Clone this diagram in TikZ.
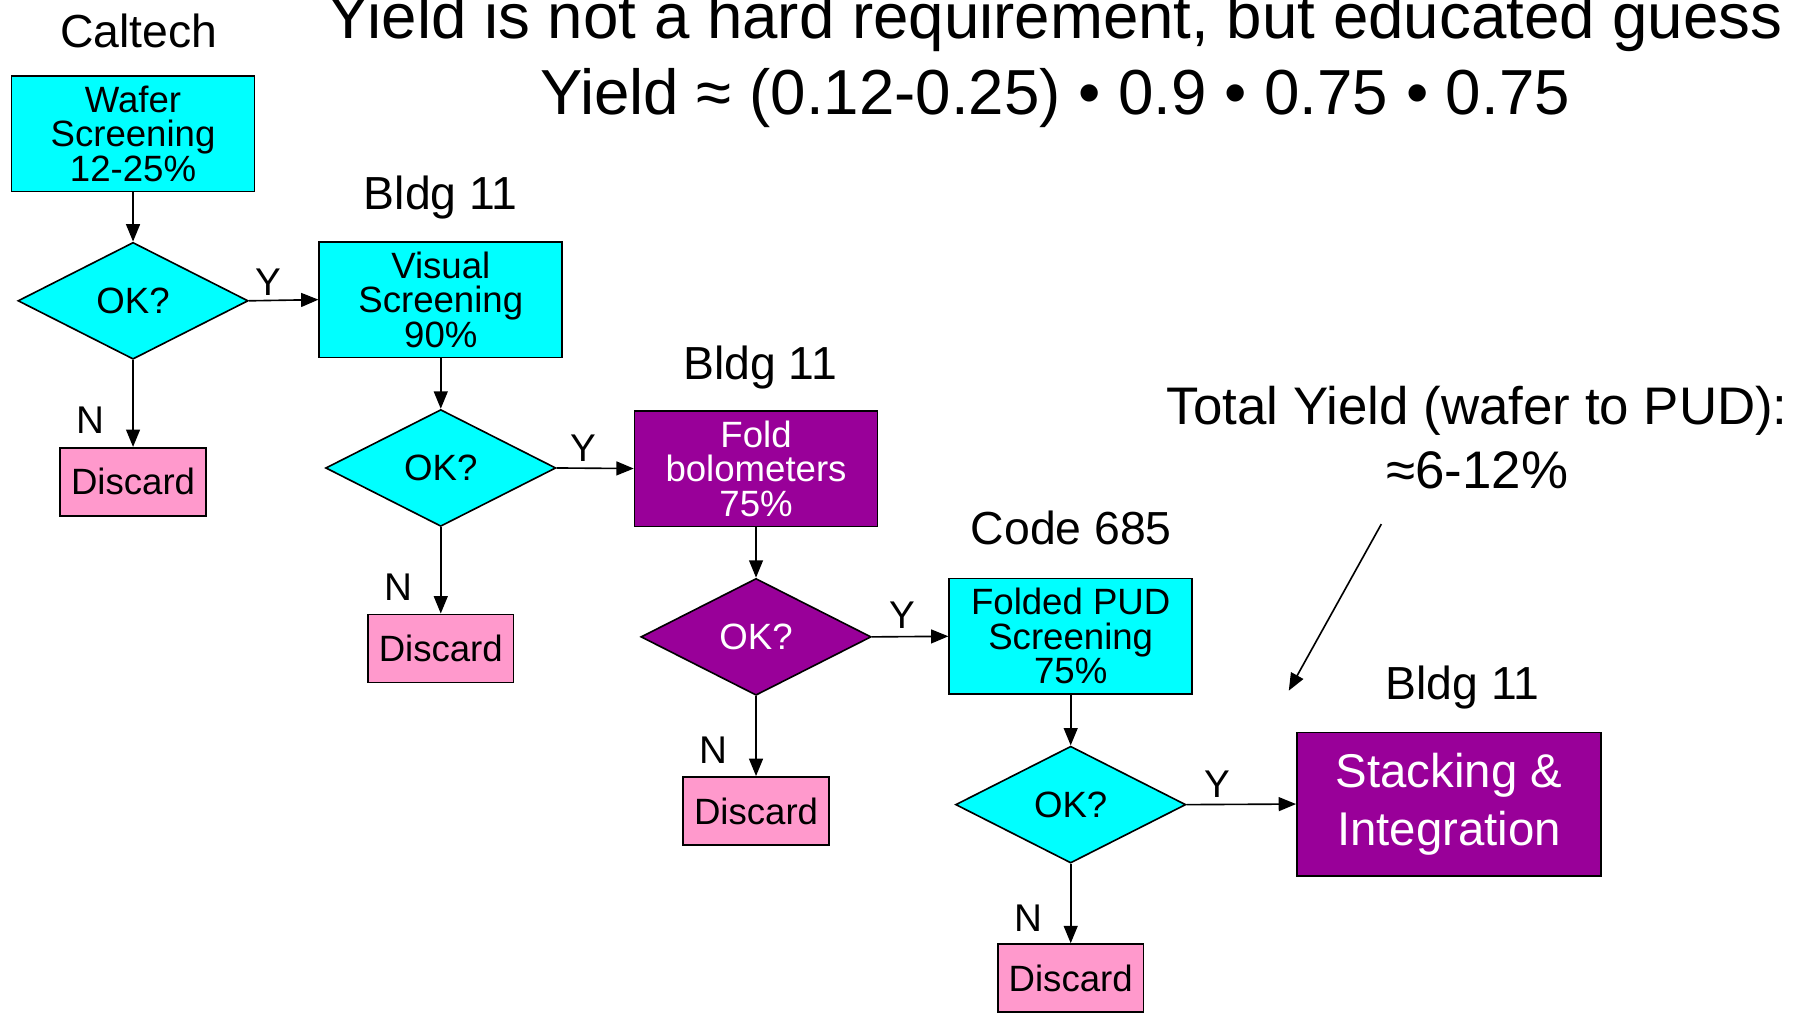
\documentclass[tikz,border=0pt]{standalone}
\usepackage{fontspec}
\setmainfont{Liberation Sans}
\usepackage{tikz,xcolor}
\usetikzlibrary{shapes.geometric,arrows.meta}

\definecolor{boxcyan}{HTML}{00FFFF}
\definecolor{boxpurple}{HTML}{990099}
\definecolor{boxpink}{HTML}{FF99CC}

\begin{document}
\begin{tikzpicture}[x=0.2mm,y=-0.2mm,
    proc/.style={draw,line width=0.8pt,minimum width=4.2cm,minimum height=2cm,inner sep=1pt,align=center,font=\fontsize{18}{17}\selectfont},
    test/.style={diamond,draw,line width=0.8pt,minimum width=3.98cm,minimum height=2.02cm,inner sep=0pt,font=\fontsize{18}{18}\selectfont},
    drop/.style={draw,line width=0.8pt,fill=boxpink,minimum width=2.52cm,minimum height=1.18cm,font=\fontsize{18}{18}\selectfont},
    site/.style={anchor=base,font=\fontsize{22.8}{27}\selectfont},
    lbl/.style={anchor=base,font=\fontsize{19}{22}\selectfont},
    arr/.style={-{Triangle[length=3mm,width=2.4mm]},line width=0.8pt}]
        \useasboundingbox (0,0) rectangle (1568,875);

        % title
        \node[font=\fontsize{31.3}{37.6}\selectfont,align=center] (title) at (912,52) {Yield is not a hard requirement, but educated guess\\Yield ≈ (0.12-0.25) • 0.9 • 0.75 • 0.75};

        % where each step is done
        \node[site] (caltech) at (120,41) {Caltech};
        \node[site] (bldgA) at (381,181) {Bldg 11};
        \node[site] (bldgB) at (657,328) {Bldg 11};
        \node[site] (code) at (926,471) {Code 685};
        \node[site] (bldgC) at (1264,605) {Bldg 11};

        % steps
        \node[proc,fill=boxcyan] (wafer) at (115,115.5) {Wafer\\Screening\\12-25\%};
        \node[test,fill=boxcyan] (ok1) at (115,260) {OK?};
        \node[drop] (drop1) at (115,416.5) {Discard};
        \node[proc,fill=boxcyan] (visual) at (381,259) {Visual\\Screening\\90\%};
        \node[test,fill=boxcyan] (ok2) at (381,404.5) {OK?};
        \node[drop] (drop2) at (381,560.5) {Discard};
        \node[proc,fill=boxpurple,text=white] (fold) at (653.5,405) {Fold\\bolometers\\75\%};
        \node[test,fill=boxpurple,text=white] (ok3) at (653.5,550.5) {OK?};
        \node[drop] (drop3) at (653.5,701) {Discard};
        \node[proc,fill=boxcyan] (pud) at (925.5,550) {Folded PUD\\Screening\\75\%};
        \node[test,fill=boxcyan] (ok4) at (925.5,695.5) {OK?};
        \node[drop] (drop4) at (925.5,845.5) {Discard};
        \node[proc,fill=boxpurple,text=white,minimum width=5.26cm,minimum height=2.48cm,font=\fontsize{23.3}{28.5}\selectfont] (stack) at (1252.5,695) {Stacking \&\\Integration};

        \draw[arr] (wafer.south) -- (ok1.north);
        \draw[arr] (ok1.east) -- (visual.west);
        \draw[arr] (ok1.south) -- (drop1.north);
        \draw[arr] (visual.south) -- (ok2.north);
        \draw[arr] (ok2.east) -- (fold.west);
        \draw[arr] (ok2.south) -- (drop2.north);
        \draw[arr] (fold.south) -- (ok3.north);
        \draw[arr] (ok3.east) -- (pud.west);
        \draw[arr] (ok3.south) -- (drop3.north);
        \draw[arr] (pud.south) -- (ok4.north);
        \draw[arr] (ok4.east) -- (stack.west);
        \draw[arr] (ok4.south) -- (drop4.north);

        % Y / N
        \node[lbl] (y1) at (232,255) {Y};
        \node[lbl] (n1) at (78,375) {N};
        \node[lbl] (y2) at (504,399) {Y};
        \node[lbl] (n2) at (344,519) {N};
        \node[lbl] (y3) at (780,543) {Y};
        \node[lbl] (n3) at (617,660) {N};
        \node[lbl] (y4) at (1052,689) {Y};
        \node[lbl] (n4) at (889,805) {N};

        % total yield note
        \node[font=\fontsize{26}{31.3}\selectfont,align=center] (total) at (1277,378) {Total Yield (wafer to PUD):\\≈6-12\%};
        \coordinate (ptrA) at (1194,453);
        \coordinate (ptrB) at (1114,597);
        \draw[arr] (ptrA) -- (ptrB);
    \end{tikzpicture}
\end{document}
